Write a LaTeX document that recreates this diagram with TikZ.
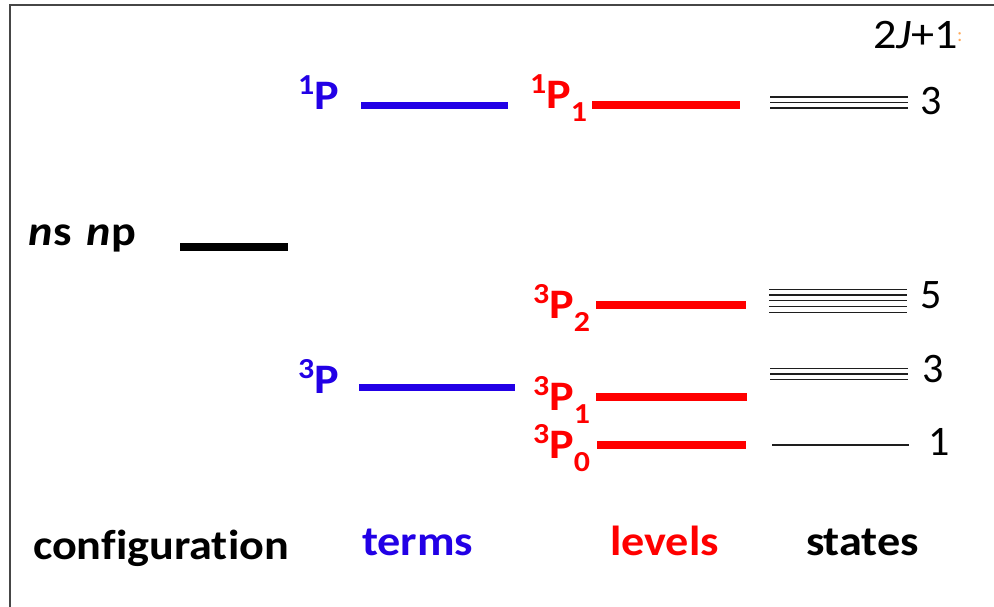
\documentclass[tikz,border=0pt]{standalone}
\usepackage{fontspec}
\setmainfont{Carlito}[Ligatures=NoCommon]
\newfontfamily\widefont{Carlito}[Ligatures=NoCommon,FakeStretch=1.1]
\definecolor{tblue}{RGB}{34,0,230}
\definecolor{tred}{RGB}{255,0,0}
\definecolor{frame}{RGB}{70,70,70}
\definecolor{stline}{RGB}{30,30,30}
\definecolor{tor}{RGB}{255,170,90}
\newcommand{\bigf}{\fontsize{42}{50}\selectfont}
\newcommand{\smallf}{\fontsize{29}{30}\selectfont}
\newcommand{\supx}[1]{\raisebox{15pt}{\smallf #1}}
\newcommand{\subx}[1]{\raisebox{-13pt}{\smallf #1}}
\begin{document}
\begin{tikzpicture}[x=1pt,y=-1pt,
  lbl/.style={anchor=base west,inner sep=0pt,outer sep=0pt,font=\widefont\bigf\bfseries},
  num/.style={anchor=base west,inner sep=0pt,outer sep=0pt,font=\bigf},
  termline/.style={tblue,line width=7pt},
  levline/.style={tred,line width=7.5pt},
  cfgline/.style={black,line width=8pt},
  stateline/.style={stline,line width=1.5pt}]
\useasboundingbox (0,0) rectangle (994,607);
\fill[white] (0,0) rectangle (994,607);
% frame
\draw[frame,line width=2pt] (9.5,607) -- (9.5,5.5) -- (994,5.5);
% configuration
\node[lbl] (nsnp) at (28,245) {\itshape n\kern1pt\upshape s\hspace{4pt} \itshape n\kern1pt\upshape p};
\draw[cfgline] (180,247) -- (288,247);
% terms
\node[lbl,tblue] (t1P) at (298,110) {\supx{1}P};
\draw[termline] (361,105.5) -- (508,105.5);
\node[lbl,tblue] (t3P) at (298,393) {\supx{3}P};
\draw[termline] (359,387.5) -- (515,387.5);
% levels
\node[lbl,tred] (l1P1) at (530,109) {\supx{1}P\subx{1}};
\draw[levline] (592,105) -- (740,105);
\node[lbl,tred] (l3P2) at (533,318) {\supx{3}P\subx{2}};
\draw[levline] (596,305) -- (746,305);
\node[lbl,tred] (l3P1) at (533,410) {\supx{3}P\subx{1}};
\draw[levline] (596,397) -- (747,397);
\node[lbl,tred] (l3P0) at (533,458) {\supx{3}P\subx{0}};
\draw[levline] (597,445) -- (746,445);
% states
\foreach \yy in {97,102.5,108} \draw[stateline] (770,\yy) -- (908,\yy);
\foreach \yy in {289.5,295,300.7,306.5,312.3} \draw[stateline] (769,\yy) -- (907,\yy);
\foreach \yy in {368.3,374,379.3} \draw[stateline] (770,\yy) -- (908,\yy);
\draw[stateline] (772,445) -- (909,445);
\node[num,font=\widefont\bigf] (hdr) at (873,49) {2\textit{J}+1};
\node[anchor=base west,inner sep=0pt,tor,font=\fontsize{20}{22}\selectfont] (hdrc) at (957,42) {:};
\node[num] (n3a) at (920,115) {3};
\node[num] (n5) at (920,308) {5};
\node[num] (n3b) at (922,382) {3};
\node[num] (n1) at (928,455) {1};
% column labels
\node[lbl] (cfg) at (33,559) {configuration};
\node[lbl,tblue] (terms) at (362,555) {terms};
\node[lbl,tred] (levels) at (610,555) {levels};
\node[lbl] (states) at (806,555) {states};
\end{tikzpicture}
\end{document}
